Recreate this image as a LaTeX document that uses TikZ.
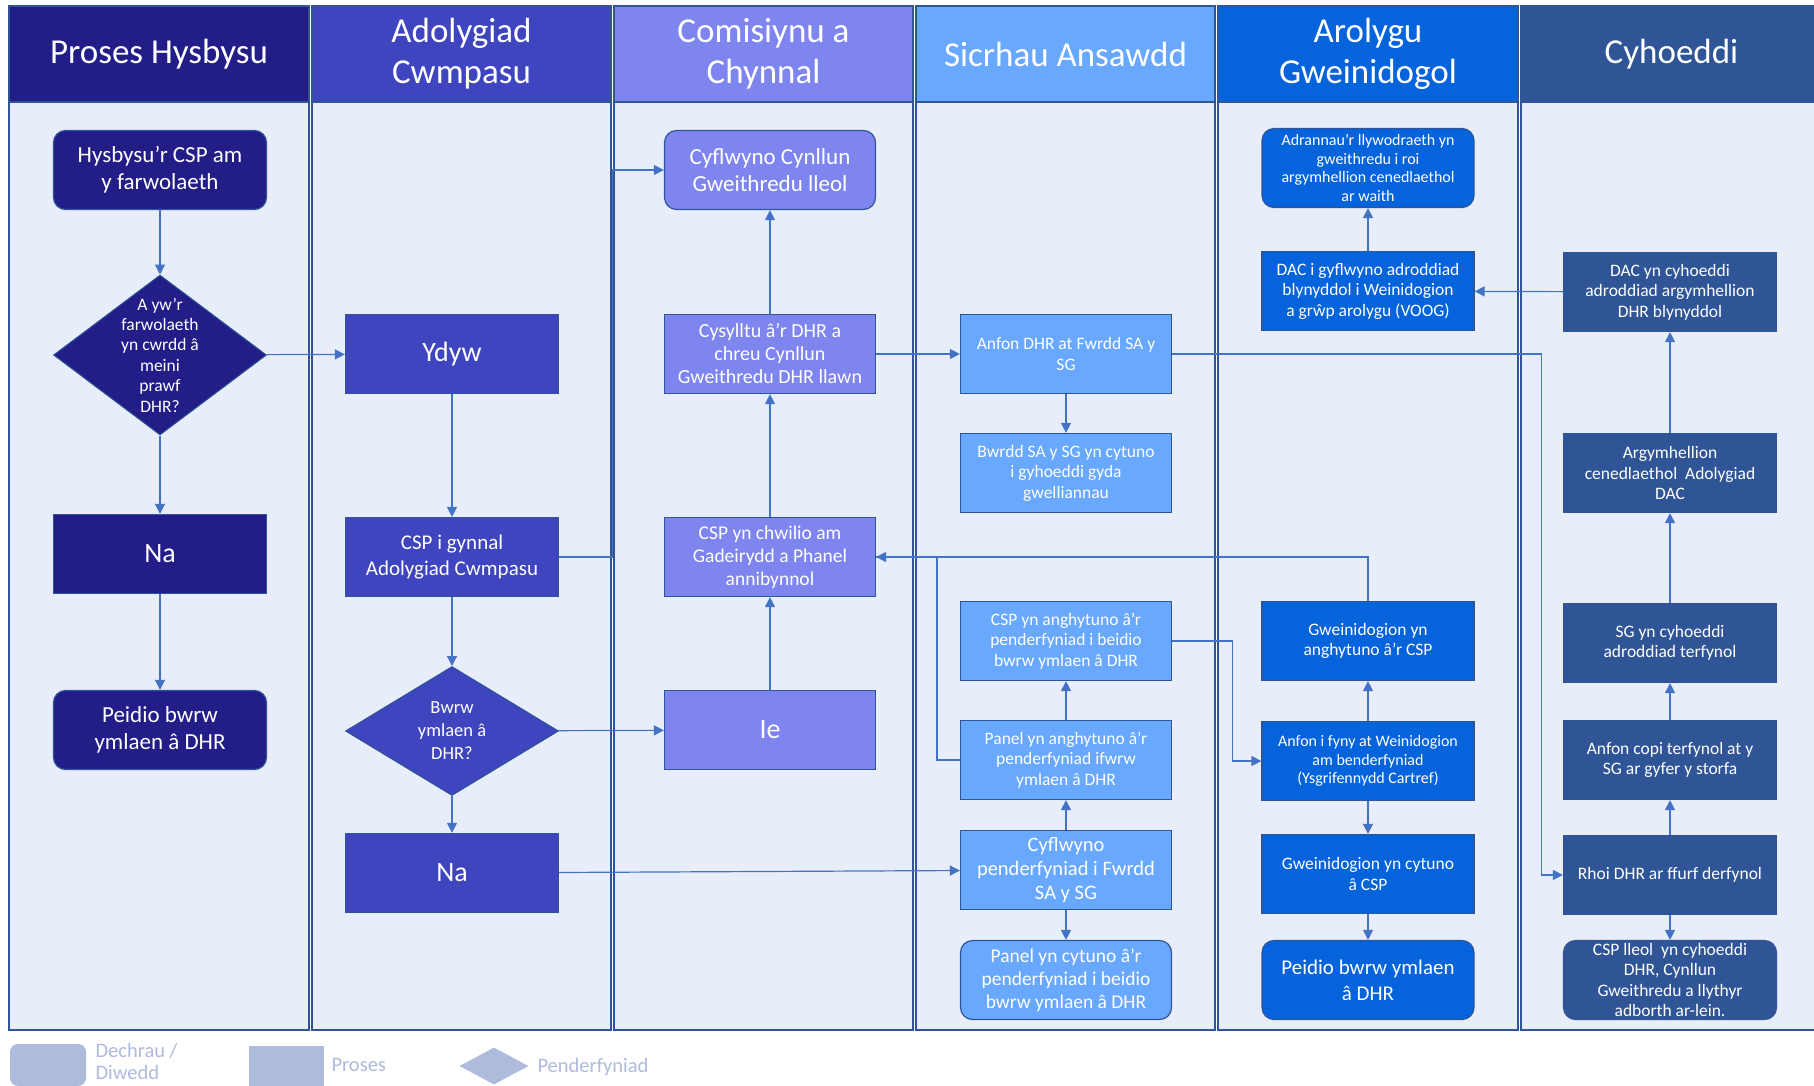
\documentclass[tikz,border=0pt]{standalone}
\usepackage{fontspec}
\setmainfont{Carlito}
\usepackage{tikz}
\usetikzlibrary{arrows.meta}
\usetikzlibrary{positioning,shapes.geometric}
\definecolor{lanea}{HTML}{221D87}
\definecolor{laneb}{HTML}{3E45BE}
\definecolor{lanec}{HTML}{7F85EE}
\definecolor{laned}{HTML}{68A8FF}
\definecolor{lanee}{HTML}{0563DC}
\definecolor{lanef}{HTML}{2F5597}
\definecolor{laneback}{HTML}{E8EEF9}
\definecolor{laneline}{HTML}{2F5597}
\definecolor{linkblue}{HTML}{4472C4}
\definecolor{keygrey}{HTML}{AEBBDD}
\tikzset{
    mynode/.style={rectangle, draw=laneline, line width=1.2pt, text=white, align=center, minimum width=213pt, minimum height=79pt, inner sep=2pt},
    myend/.style={mynode, rounded corners=12pt},
    mydec/.style={diamond, draw=laneline, line width=1pt, minimum width=213pt, inner sep=0pt},
    mylabel/.style={text=white, align=center},
    myhead/.style={rectangle, draw=laneline, line width=1.5pt, text=white, align=center, minimum width=300pt, minimum height=96pt, font=\fontsize{35}{41}\selectfont},
    mylane/.style={draw=laneline, line width=1.5pt, fill=laneback},
    myarrow/.style={-{Triangle[length=10pt,width=10pt]}, draw=linkblue, line width=1.2pt},
    myline/.style={draw=linkblue, line width=1.2pt},
    mykey/.style={text=keygrey, align=left, font=\fontsize{20.5}{24}\selectfont},
    bigtext/.style={font=\fontsize{28}{33}\selectfont},
    midtext/.style={font=\fontsize{23}{27}\selectfont},
    smalltext/.style={font=\fontsize{19.5}{23}\selectfont},
    tinytext/.style={font=\fontsize{17.5}{20.5}\selectfont},
    minitext/.style={font=\fontsize{16}{18.5}\selectfont}
}
\begin{document}
\begin{tikzpicture}[x=1pt,y=-1pt,node distance=100pt,on grid]
    \useasboundingbox (0,0) rectangle (1814,1085);
    \fill[white] (0,0) rectangle (1814,1085);
    % swim lanes
    \draw[mylane] (9,6) rectangle (309,1030);
    \draw[mylane] (312,6) rectangle (611,1030);
    \draw[mylane] (614,6) rectangle (913,1030);
    \draw[mylane] (916,6) rectangle (1215,1030);
    \draw[mylane] (1218,6) rectangle (1518,1030);
    \draw[mylane] (1521,6) rectangle (1822,1030);
    \node[myhead, fill=lanea] (head1) at (159,54) {Proses Hysbysu};
    \node[myhead, fill=laneb, minimum width=299pt] (head2) at (461.5,54) {Adolygiad\\Cwmpasu};
    \node[myhead, fill=lanec, minimum width=299pt] (head3) at (763.5,54) {Comisiynu a\\Chynnal};
    \node[myhead, fill=laned, minimum width=299pt] (head4) at (1065.5,54) {Sicrhau Ansawdd};
    \node[myhead, fill=lanee] (head5) at (1368,54) {Arolygu\\Gweinidogol};
    \node[myhead, fill=lanef, minimum width=301pt] (head6) at (1671.5,54) {Cyhoeddi};

    % Proses Hysbysu
    \node[myend, fill=lanea, midtext] (tell) at (160,170) {Hysbysu’r CSP am\\y farwolaeth};
    \node[mydec, fill=lanea, minimum height=160pt, label={[mylabel, font=\fontsize{17.5}{20.4}\selectfont]center:{A yw’r\\farwolaeth\\yn cwrdd â\\meini\\prawf\\DHR?}}] (meets) [below=185pt of tell] {};
    \node[mynode, fill=lanea, bigtext] (no1) [below=199pt of meets] {Na};
    \node[myend, fill=lanea, midtext] (stop1) [below=176pt of no1] {Peidio bwrw\\ymlaen â DHR};

    % Adolygiad Cwmpasu
    \node[mynode, fill=laneb, bigtext] (yes1) at (452,354) {Ydyw};
    \node[mynode, fill=laneb, font=\fontsize{21}{26}\selectfont] (scope) [below=203pt of yes1] {CSP i gynnal\\Adolygiad Cwmpasu};
    \node[mydec, fill=laneb, minimum height=129pt, label={[mylabel, font=\fontsize{18.5}{23}\selectfont]center:{Bwrw\\ymlaen â\\DHR?}}] (go) [below=174pt of scope] {};
    \node[mynode, fill=laneb, bigtext] (no2) [below=142pt of go] {Na};

    % Comisiynu a Chynnal
    \node[myend, fill=lanec, midtext, minimum width=211pt] (plan) at (770,170) {Cyflwyno Cynllun\\Gweithredu lleol};
    \node[mynode, fill=lanec, font=\fontsize{20}{23}\selectfont, minimum width=211pt] (link) [below=184pt of plan] {Cysylltu â’r DHR a\\chreu Cynllun\\Gweithredu DHR llawn};
    \node[mynode, fill=lanec, smalltext, minimum width=211pt] (panel) [below=203pt of link] {CSP yn chwilio am\\Gadeirydd a Phanel\\annibynnol};
    \node[mynode, fill=lanec, bigtext, minimum width=211pt] (yes2) [below=173pt of panel] {Ie};

    % Sicrhau Ansawdd
    \node[mynode, fill=laned, tinytext, minimum width=211pt] (send) at (1066,354) {Anfon DHR at Fwrdd SA y\\SG};
    \node[mynode, fill=laned, tinytext, minimum width=211pt] (amend) [below=119pt of send] {Bwrdd SA y SG yn cytuno\\i gyhoeddi gyda\\gwelliannau};
    \node[mynode, fill=laned, tinytext, minimum width=211pt] (cspno) [below=168pt of amend] {CSP yn anghytuno â’r\\penderfyniad i beidio\\bwrw ymlaen â DHR};
    \node[mynode, fill=laned, tinytext, minimum width=211pt] (panno) [below=119pt of cspno] {Panel yn anghytuno â’r\\penderfyniad ifwrw\\ymlaen â DHR};
    \node[mynode, fill=laned, font=\fontsize{20.5}{24}\selectfont, minimum width=211pt] (submit) [below=110pt of panno] {Cyflwyno\\penderfyniad i Fwrdd\\SA y SG};
    \node[myend, fill=laned, smalltext, minimum width=211pt] (panyes) [below=110pt of submit] {Panel yn cytuno â’r\\penderfyniad i beidio\\bwrw ymlaen â DHR};

    % Arolygu Gweinidogol
    \node[myend, fill=lanee, minitext, minimum width=212pt] (depts) at (1368,168) {Adrannau’r llywodraeth yn\\gweithredu i roi\\argymhellion cenedlaethol\\ar waith};
    \node[mynode, fill=lanee, tinytext, minimum width=212pt] (report) [below=123pt of depts] {DAC i gyflwyno adroddiad\\blynyddol i Weinidogion\\a grŵp arolygu (VOOG)};
    \node[mynode, fill=lanee, tinytext, minimum width=212pt] (minno) [below=350pt of report] {Gweinidogion yn\\anghytuno â’r CSP};
    \node[mynode, fill=lanee, minitext, minimum width=212pt] (escal) [below=120pt of minno] {Anfon i fyny at Weinidogion\\am benderfyniad\\(Ysgrifennydd Cartref)};
    \node[mynode, fill=lanee, tinytext, minimum width=212pt] (minyes) [below=113pt of escal] {Gweinidogion yn cytuno\\â CSP};
    \node[myend, fill=lanee, font=\fontsize{21}{26}\selectfont, minimum width=212pt] (stop2) [below=106pt of minyes] {Peidio bwrw ymlaen\\â DHR};

    % Cyhoeddi
    \node[mynode, fill=lanef, tinytext] (annual) at (1670,292) {DAC yn cyhoeddi\\adroddiad argymhellion\\DHR blynyddol};
    \node[mynode, fill=lanef, tinytext] (natrec) [below=181pt of annual] {Argymhellion\\cenedlaethol~ Adolygiad\\DAC};
    \node[mynode, fill=lanef, tinytext] (sgpub) [below=170pt of natrec] {SG yn cyhoeddi\\adroddiad terfynol};
    \node[mynode, fill=lanef, tinytext] (copy) [below=117pt of sgpub] {Anfon copi terfynol at y\\SG ar gyfer y storfa};
    \node[mynode, fill=lanef, tinytext] (final) [below=115pt of copy] {Rhoi DHR ar ffurf derfynol};
    \node[myend, fill=lanef, font=\fontsize{17.5}{20.5}\selectfont] (online) [below=105pt of final] {CSP lleol~ yn cyhoeddi\\DHR, Cynllun\\Gweithredu a llythyr\\adborth ar-lein.};

    % connectors
    \path (tell) edge [myarrow] (meets)
          (meets) edge [myarrow] (yes1)
          (meets) edge [myarrow] (no1)
          (no1) edge [myarrow] (stop1)
          (yes1) edge [myarrow] (scope)
          (scope) edge [myarrow] (go)
          (go) edge [myarrow] (no2)
          (go) edge [myarrow] (yes2)
          (yes2) edge [myarrow] (panel)
          (panel) edge [myarrow] (link)
          (link) edge [myarrow] (plan)
          (link) edge [myarrow] (send)
          (no2) edge [myarrow] (submit)
          (send) edge [myarrow] (amend)
          (submit) edge [myarrow] (panno)
          (panno) edge [myarrow] (cspno)
          (submit) edge [myarrow] (panyes)
          (escal) edge [myarrow] (minno)
          (escal) edge [myarrow] (minyes)
          (minyes) edge [myarrow] (stop2)
          (report) edge [myarrow] (depts)
          (annual) edge [myarrow] (report)
          (natrec) edge [myarrow] (annual)
          (sgpub) edge [myarrow] (natrec)
          (copy) edge [myarrow] (sgpub)
          (final) edge [myarrow] (copy)
          (final) edge [myarrow] (online);
    \draw[myarrow] (scope.east) -- ++(53pt,0) |- (plan.west);
    \draw[myarrow] (send.east) -- ++(369pt,0) |- (final.west);
    \draw[myline] (panno.west) -- ++(-23pt,0) |- (panel.east);
    \draw[myarrow] (minno.north) |- (panel.east);
    \draw[myarrow] (cspno.east) -- ++(60pt,0) |- (escal.west);

    % legend
    \node[fill=keygrey, rounded corners=8pt, minimum width=76pt, minimum height=42pt] (keyend) at (48,1065) {};
    \node[mykey, anchor=west, font=\fontsize{20.5}{22}\selectfont] (keyendtxt) at (92,1061) {Dechrau /\\Diwedd};
    \node[fill=keygrey, minimum width=75pt, minimum height=40pt] (keyproc) at (286,1066) {};
    \node[mykey, anchor=west] (keyproctxt) at (328,1065) {Proses};
    \node[diamond, fill=keygrey, minimum width=69pt, minimum height=37pt, inner sep=0pt] (keydec) at (494,1066) {};
    \node[mykey, anchor=west] (keydectxt) at (534,1067) {Penderfyniad};
\end{tikzpicture}
\end{document}
